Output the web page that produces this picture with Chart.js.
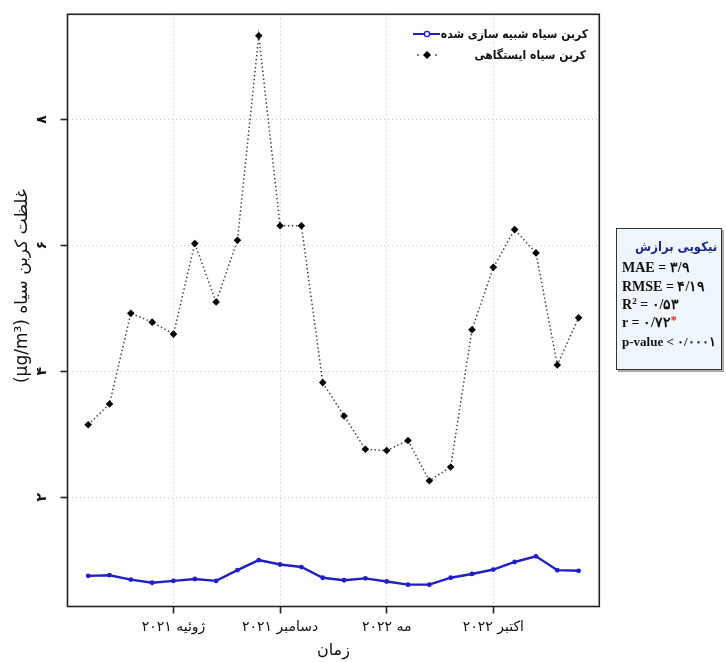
<!DOCTYPE html>
<html>
<head>
<meta charset="utf-8">
<script src="https://cdn.jsdelivr.net/npm/chart.js@4.4.1/dist/chart.umd.min.js"></script>
<style>
  html, body { margin: 0; padding: 0; background: #fff; }
  #wrap { position: relative; width: 726px; height: 662px; overflow: hidden; }
  #chart { position: absolute; left: 0; top: 0; }
  .leg { position: absolute; font-family: "DejaVu Sans", sans-serif; font-weight: bold; font-size: 12px;
         font-stretch: condensed; line-height: 16px; direction: rtl; white-space: nowrap; color: #111; }
  .legsym { position: absolute; }
  #fitbox { position: absolute; left: 616px; top: 228px; width: 104px; height: 140px;
            border: 1.5px solid #333; background: #eef5fb; box-shadow: 2px 2px 0 #aaa; }
  .fl { position: absolute; left: 5px; font-family: "Liberation Serif", "DejaVu Serif", serif; font-weight: bold;
        font-size: 14px; line-height: 18px; white-space: nowrap; color: #111; direction: ltr; font-stretch: condensed; }
  .ft { position: absolute; left: 18px; width: 104px; text-align: left; font-family: "DejaVu Sans", sans-serif;
        font-weight: bold; font-size: 13px; line-height: 18px; color: #1b2a8a; direction: ltr; font-stretch: condensed; }
  .sup { font-size: 9px; position: relative; top: -5px; line-height: 0; vertical-align: baseline; }
</style>
</head>
<body>
<div id="wrap">
  <canvas id="chart" width="726" height="662"></canvas>
  <svg class="legsym" style="left:405px;top:26px" width="40" height="36">
    <line x1="8" y1="8" x2="35" y2="8" stroke="#1f1fc4" stroke-width="2"/>
    <circle cx="22" cy="8" r="2.6" fill="#fff" stroke="#1f1fc4" stroke-width="1.4"/>
    <circle cx="13" cy="29" r="0.9" fill="#444"/>
    <circle cx="31" cy="29" r="0.9" fill="#444"/>
    <polygon points="22,25 26,29 22,33 18,29" fill="#000"/>
  </svg>
  <div class="leg" id="leg1" style="right:138px;top:26px"></div>
  <div class="leg" id="leg2" style="right:140px;top:47px"></div>
  <div id="fitbox">
    <div class="ft" id="fitTitle" style="top:9px"></div>
    <div class="fl" id="fit0" style="top:30px"></div>
    <div class="fl" id="fit1" style="top:49px"></div>
    <div class="fl" id="fit2" style="top:67px"></div>
    <div class="fl" id="fit3" style="top:85px"></div>
    <div class="fl" id="fit4" style="top:104px;font-size:13px"></div>
  </div>
</div>
<script>
// ---------- data ----------
const categories = ['2021-03','2021-04','2021-05','2021-06','2021-07','2021-08','2021-09','2021-10',
  '2021-11','2021-12','2022-01','2022-02','2022-03','2022-04','2022-05','2022-06','2022-07','2022-08',
  '2022-09','2022-10','2022-11','2022-12','2023-01','2023-02'];
const simulatedBC = [0.75,0.76,0.69,0.64,0.67,0.70,0.67,0.84,1.00,0.93,0.89,0.72,
  0.68,0.71,0.66,0.61,0.61,0.72,0.78,0.85,0.97,1.06,0.84,0.83];
const stationBC = [3.15,3.48,4.92,4.78,4.59,6.03,5.10,6.08,9.33,6.31,6.31,3.82,
  3.29,2.76,2.74,2.90,2.26,2.48,4.66,5.65,6.25,5.88,4.10,4.85];
const seriesNames = ['کربن سیاه شبیه سازی شده', 'کربن سیاه ایستگاهی'];
const xTickMonths = ['2021-07','2021-12','2022-05','2022-10'];
const xTickLabels = ['ژوئیه ۲۰۲۱','دسامبر ۲۰۲۱','مه ۲۰۲۲','اکتبر ۲۰۲۲'];
const yTickValues = [2, 4, 6, 8];
const yTickLabels = ['۲', '۴', '۶', '۸'];
const xTitle = 'زمان';
const yTitle = 'غلظت کربن سیاه (µg/m³)';
const fitTitle = 'نیکویی برازش';
const fitLines = ['MAE = ۳/۹', 'RMSE = ۴/۱۹', 'R<span class="sup">2</span> = ۰/۵۳',
  'r = ۰/۷۲<span class="sup" style="color:#e02020;font-size:12px;top:-3px">*</span>', 'p-value &lt; ۰/۰۰۰۱'];

// ---------- html texts ----------
document.getElementById('leg1').textContent = seriesNames[0];
document.getElementById('leg2').textContent = seriesNames[1];
document.getElementById('fitTitle').innerHTML = '<span dir="rtl">' + fitTitle + '</span>';
fitLines.forEach((t, i) => { document.getElementById('fit' + i).innerHTML = t; });

// ---------- chart ----------
const toPts = arr => arr.map((v, i) => ({ x: i, y: v }));
const frame = {
  id: 'frame',
  afterDatasetsDraw(chart) {
    const { ctx, chartArea: a } = chart;
    ctx.save();
    ctx.strokeStyle = '#222';
    ctx.lineWidth = 1.6;
    ctx.strokeRect(a.left, a.top, a.right - a.left, a.bottom - a.top);
    ctx.restore();
  }
};
const gridCommon = { color: '#c9c9c9', lineWidth: 1, tickColor: '#222', tickWidth: 1.6, tickLength: 7, tickBorderDash: [] };
const NB = '\u00A0';

new Chart(document.getElementById('chart'), {
  type: 'line',
  data: {
    datasets: [
      { label: seriesNames[0], data: toPts(simulatedBC), borderColor: '#1f1fc4', backgroundColor: '#1f1fc4',
        borderWidth: 2.4, pointRadius: 2.4, pointBorderWidth: 0, pointBackgroundColor: '#1f1fc4', tension: 0, order: 2 },
      { label: seriesNames[1], data: toPts(stationBC), borderColor: '#3a3a3a', borderWidth: 1.5, borderDash: [1.4, 2.6],
        pointStyle: 'rectRot', pointRadius: 3.8, pointBorderWidth: 0, pointBackgroundColor: '#000', tension: 0, order: 1 }
    ]
  },
  options: {
    responsive: false, animation: false, devicePixelRatio: 1,
    layout: { padding: { left: 0, right: 126.7, top: 14.3, bottom: 0 } },
    plugins: { legend: { display: false }, tooltip: { enabled: false } },
    scales: {
      x: {
        type: 'linear', min: -0.97, max: 23.97,
        afterBuildTicks: s => { s.ticks = xTickMonths.map(m => ({ value: categories.indexOf(m) })); },
        afterFit: s => { s.height = 55.5; s.paddingLeft = 0; s.paddingRight = 0; },
        ticks: { autoSkip: false, maxRotation: 0, minRotation: 0, padding: 5, color: '#111',
                 font: { family: 'DejaVu Sans', size: 14 }, callback: (v, i) => xTickLabels[i] },
        grid: gridCommon,
        border: { display: false, dash: [1, 3] },
        title: { display: true, text: xTitle, color: '#111', font: { family: 'DejaVu Sans', size: 16 }, padding: { top: 0, bottom: 2 } }
      },
      y: {
        type: 'linear', min: 0.263, max: 9.67,
        afterBuildTicks: s => { s.ticks = yTickValues.map(v => ({ value: v })); },
        afterFit: s => { s.width = 67.5; s.paddingTop = 0; s.paddingBottom = 0; },
        ticks: { minRotation: 90, maxRotation: 90, crossAlign: 'center', padding: 14, color: '#111',
                 font: { family: 'DejaVu Sans', size: 14, weight: 'bold' }, callback: (v, i) => yTickLabels[i] },
        grid: gridCommon,
        border: { display: false, dash: [1, 3] },
        title: { display: true, text: '\u202B' + yTitle + NB.repeat(9) + '\u202C', color: '#111',
                 font: { family: 'DejaVu Sans', size: 17 }, padding: { top: 12, bottom: 0 } }
      }
    }
  },
  plugins: [frame]
});
</script>
</body>
</html>
